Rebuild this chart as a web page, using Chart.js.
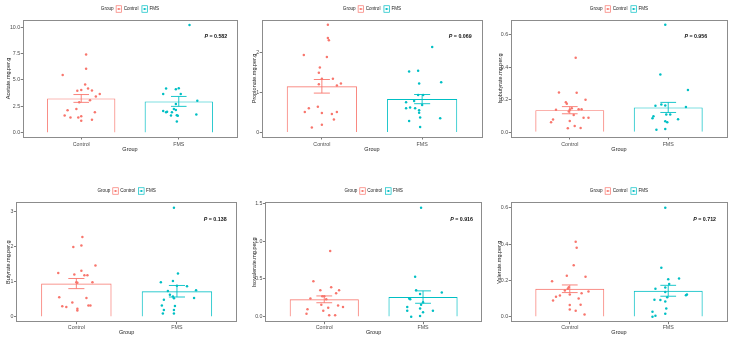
<!DOCTYPE html>
<html>
<head>
<meta charset="utf-8">
<script src="https://cdn.jsdelivr.net/npm/chart.js@4.4.1/dist/chart.umd.min.js"></script>
<style>
  html, body { margin: 0; padding: 0; background: #fff; }
  #wrap { position: relative; width: 733px; height: 342px; overflow: hidden; }
  .panel { position: absolute; }
  .panel canvas { position: absolute; left: 0; top: 0; }
</style>
</head>
<body>
<div id="wrap"></div>
<script>
const groups = ['Control', 'FMS'];
const colors = ['#F8766D', '#00BFC4'];

const yTitles = ['Acetate.mg.per.g', 'Propionate.mg.per.g', 'Isobutyrate.mg.per.g',
                 'Butyrate.mg.per.g', 'Isovalerate.mg.per.g', 'Valerate.mg.per.g'];
const pValues = ['0.582', '0.069', '0.956', '0.138', '0.916', '0.712'];

// bar height = group mean, whiskers = mean +/- se
const barMeans = [[3.25, 2.97], [1.15, 0.83], [0.135, 0.152], [0.95, 0.73], [0.23, 0.26], [0.154, 0.143]];
const barSE    = [[0.37, 0.47], [0.17, 0.115], [0.022, 0.031], [0.145, 0.165], [0.045, 0.082], [0.021, 0.03]];

const yTicks    = [[0, 2.5, 5, 7.5, 10], [0, 1, 2], [0, 0.2, 0.4, 0.6], [0, 1, 2, 3], [0, 0.5, 1, 1.5], [0, 0.2, 0.4, 0.6]];
const yDecimals = [1, 0, 1, 0, 1, 1];
const yRange    = [[-0.45, 10.73], [-0.13, 2.82], [-0.033, 0.693], [-0.156, 3.276], [-0.072, 1.512], [-0.03, 0.63]];

// individual samples: [jitter offset, value]
const acetateControl = [[-0.19,5.47],[0.05,7.41],[0.05,6.06],[0.04,4.56],[0,4.06],[-0.04,3.97],[0.07,4.19],[0.11,4.0],[0.19,3.66],[0.15,3.44],[0.09,3.09],[-0.02,2.88],[-0.14,2.13],[-0.05,2.25],[0.14,1.94],[-0.17,1.63],[-0.11,1.44],[-0.03,1.44],[0,1.56],[0,1.13],[0.11,1.22]];
const acetateFMS     = [[0.11,10.22],[-0.13,4.19],[-0.03,4.13],[0,4.22],[-0.16,3.66],[0.02,3.66],[0.19,3.03],[-0.03,2.72],[-0.05,2.25],[-0.16,2.06],[-0.13,1.94],[-0.12,2.0],[-0.07,1.94],[-0.03,2.16],[-0.08,1.63],[-0.02,1.66],[-0.01,1.6],[0.18,1.72],[-0.02,1.06]];

const propionateControl = [[0.06,2.69],[0.06,2.36],[0.07,2.30],[-0.18,1.93],[0.05,1.88],[-0.02,1.62],[-0.03,1.49],[0,1.34],[0.11,1.34],[-0.03,1.2],[0.19,1.22],[0.15,1.17],[-0.04,0.64],[-0.13,0.6],[-0.17,0.51],[0,0.48],[0.15,0.51],[0.1,0.46],[0.12,0.32],[0,0.19],[-0.1,0.12]];
const propionateFMS     = [[0.1,2.13],[-0.13,1.52],[-0.04,1.54],[-0.03,1.22],[0.19,1.25],[-0.04,0.93],[0.01,0.93],[-0.16,0.75],[-0.08,0.78],[0,0.68],[-0.16,0.6],[-0.12,0.62],[-0.07,0.6],[-0.03,0.55],[-0.03,0.49],[-0.02,0.37],[0.18,0.35],[-0.13,0.28],[-0.02,0.13]];

const isobutyrateControl = [[0.06,0.457],[-0.11,0.244],[0.07,0.242],[-0.04,0.184],[-0.03,0.174],[0.16,0.2],[-0.14,0.137],[0.02,0.147],[0.09,0.141],[0.12,0.141],[-0.01,0.127],[0.04,0.105],[0.14,0.089],[0.19,0.089],[-0.17,0.077],[-0.19,0.061],[0,0.069],[0.05,0.038],[0.11,0.026],[-0.02,0.024],[0,0.137]];
const isobutyrateFMS     = [[-0.03,0.66],[-0.08,0.354],[0.2,0.26],[-0.13,0.162],[-0.03,0.164],[-0.07,0.17],[0.18,0.154],[0.02,0.109],[-0.02,0.109],[-0.15,0.097],[-0.16,0.085],[-0.03,0.067],[-0.01,0.061],[0.1,0.079],[-0.03,0.02],[-0.12,0.014]];

const butyrateControl = [[0.06,2.28],[0.05,2.04],[-0.03,2.0],[0.19,1.47],[-0.18,1.25],[0.05,1.32],[-0.02,1.21],[0.08,1.19],[0.11,1.19],[0,0.99],[0.01,0.97],[0.16,0.99],[-0.17,0.56],[0.1,0.54],[-0.04,0.41],[-0.14,0.3],[-0.1,0.28],[0.12,0.32],[0.14,0.32],[0.01,0.23],[0.01,0.18]];
const butyrateFMS     = [[-0.03,3.12],[0.01,1.24],[-0.16,0.99],[-0.04,1.02],[0,0.89],[0.1,0.87],[-0.09,0.74],[0.19,0.76],[-0.07,0.63],[-0.04,0.58],[-0.03,0.53],[0.17,0.54],[-0.13,0.49],[-0.15,0.32],[-0.02,0.31],[-0.13,0.19],[-0.03,0.19],[-0.14,0.09],[-0.03,0.09]];

const isovalerateControl = [[0.06,0.87],[-0.11,0.47],[0.07,0.39],[-0.04,0.35],[0.15,0.35],[0.12,0.31],[-0.14,0.24],[-0.02,0.27],[0,0.27],[0.02,0.23],[-0.03,0.16],[0.04,0.12],[0.14,0.15],[0.19,0.13],[-0.17,0.1],[-0.01,0.08],[-0.18,0.04],[0.05,0.02],[0.11,0.02]];
const isovalerateFMS     = [[-0.02,1.44],[-0.08,0.53],[-0.07,0.35],[0.19,0.32],[-0.14,0.24],[-0.13,0.23],[-0.03,0.3],[0,0.19],[-0.02,0.16],[-0.16,0.13],[-0.03,0.11],[0.1,0.08],[-0.16,0.08],[0,0.06],[-0.03,0.01],[-0.12,0.0]];

const valerateControl = [[0.06,0.413],[0.07,0.38],[0.04,0.283],[-0.18,0.196],[-0.03,0.226],[0.16,0.22],[-0.01,0.163],[-0.02,0.154],[-0.05,0.145],[0.19,0.139],[0.12,0.13],[0,0.123],[-0.1,0.117],[-0.14,0.11],[0.09,0.1],[-0.17,0.09],[0,0.064],[0.11,0.066],[0,0.04],[0.06,0.033],[0.15,0.013]];
const valerateFMS     = [[-0.03,0.6],[-0.07,0.27],[0.11,0.21],[0,0.207],[0.01,0.18],[-0.03,0.161],[-0.13,0.154],[-0.03,0.136],[0.19,0.123],[0.18,0.119],[-0.01,0.108],[-0.14,0.094],[-0.08,0.092],[-0.03,0.084],[-0.02,0.046],[-0.16,0.028],[-0.03,0.017],[-0.13,0.006],[-0.16,0.0]];

const points = [
  [acetateControl, acetateFMS], [propionateControl, propionateFMS], [isobutyrateControl, isobutyrateFMS],
  [butyrateControl, butyrateFMS], [isovalerateControl, isovalerateFMS], [valerateControl, valerateFMS]
];

// layout (page px)
const FONT = '"Liberation Sans", Arial, sans-serif';
const cols = [{ x: 0, w: 245, right: 237.3 }, { x: 245, w: 245, right: 482.3 }, { x: 490, w: 243, right: 727.3 }];
const rows = [
  { y: 0,   h: 160, top: 19.5,  bottom: 137.5, xh: 15.7, tickPad: 1.5, legendY: 9 },
  { y: 170, h: 172, top: 202.3, bottom: 322.2, xh: 13.7, tickPad: 0,   legendY: 21 }
];
const plotLeft = [22.7, 261.7, 510.7, 16, 265, 510.7];
const yTitleX  = [8, 9, 10, 8.3, 9, 9.3];
const pXpos    = [2.38, 2.38, 2.28, 2.38, 2.39, 2.37];

const panelPlugin = {
  id: 'panel',
  afterDatasetsDraw(chart, args, opts) {
    const i = opts.idx, ctx = chart.ctx, x = chart.scales.x, y = chart.scales.y;
    ctx.save();
    ctx.lineWidth = 0.9;
    groups.forEach((g, k) => {
      const m = barMeans[i][k], se = barSE[i][k];
      const cx = x.getPixelForValue(k + 1);
      const half = x.getPixelForValue(k + 1.08) - cx;
      const yt = y.getPixelForValue(m + se), yb = y.getPixelForValue(m - se);
      ctx.strokeStyle = colors[k];
      ctx.beginPath();
      ctx.moveTo(cx, yt); ctx.lineTo(cx, yb);
      ctx.moveTo(cx - half, yt); ctx.lineTo(cx + half, yt);
      ctx.moveTo(cx - half, yb); ctx.lineTo(cx + half, yb);
      ctx.stroke();
    });
    ctx.restore();
  },
  afterDraw(chart, args, opts) {
    const i = opts.idx, ctx = chart.ctx, a = chart.chartArea;
    const row = rows[Math.floor(i / 3)];
    ctx.save();
    // panel border
    ctx.strokeStyle = '#8c8c8c';
    ctx.lineWidth = 1;
    ctx.strokeRect(Math.round(a.left) + 0.5, Math.round(a.top) + 0.5,
                   Math.round(a.right - a.left) - 1, Math.round(a.bottom - a.top) - 1);

    // p value
    const px = chart.scales.x.getPixelForValue(pXpos[i]);
    const py = a.top + 17.5;
    ctx.fillStyle = '#111';
    ctx.textBaseline = 'middle';
    ctx.font = 'italic bold 5.3px ' + FONT;
    const w1 = ctx.measureText('P').width;
    ctx.font = 'bold 5.3px ' + FONT;
    const rest = ' = ' + pValues[i];
    const w2 = ctx.measureText(rest).width;
    let sx = px - (w1 + w2) / 2;
    ctx.font = 'italic bold 5.3px ' + FONT;
    ctx.fillText('P', sx, py);
    ctx.font = 'bold 5.3px ' + FONT;
    ctx.fillText(rest, sx + w1, py);

    // legend
    const ly = row.legendY;
    ctx.font = '4.6px ' + FONT;
    const key = 6.5, gap = 1.5;
    const wG = ctx.measureText('Group').width;
    const wL = groups.map(g => ctx.measureText(g).width);
    const total = wG + 2 + (key + gap + wL[0]) + 3 + (key + gap + wL[1]);
    let lx = (a.left + a.right) / 2 - total / 2;
    ctx.fillStyle = '#222';
    ctx.fillText('Group', lx, ly);
    lx += wG + 2;
    groups.forEach((g, k) => {
      ctx.strokeStyle = colors[k];
      ctx.lineWidth = 0.7;
      ctx.strokeRect(lx + 0.5, ly - key / 2, key - 1, key);
      ctx.beginPath();
      ctx.moveTo(lx + 1.5, ly); ctx.lineTo(lx + key - 1.5, ly);
      ctx.stroke();
      ctx.fillStyle = colors[k];
      ctx.beginPath(); ctx.arc(lx + key / 2, ly, 0.9, 0, Math.PI * 2); ctx.fill();
      ctx.fillStyle = '#222';
      ctx.fillText(g, lx + key + gap, ly);
      lx += key + gap + wL[k] + 3;
    });
    ctx.restore();
  }
};

const wrap = document.getElementById('wrap');

function makePanel(i) {
  const col = cols[i % 3], row = rows[Math.floor(i / 3)];
  const div = document.createElement('div');
  div.className = 'panel';
  div.style.left = col.x + 'px';
  div.style.top = row.y + 'px';
  div.style.width = col.w + 'px';
  div.style.height = row.h + 'px';
  const cv = document.createElement('canvas');
  cv.width = col.w; cv.height = row.h;
  div.appendChild(cv);
  wrap.appendChild(div);

  const yw = plotLeft[i] - col.x;
  const titleSize = 5.5, lh = titleSize * 1.2;

  new Chart(cv, {
    type: 'bar',
    data: {
      datasets: [
        {
          type: 'bar',
          data: groups.map((g, k) => ({ x: k + 1, y: barMeans[i][k] })),
          backgroundColor: 'rgba(255,255,255,0)',
          borderColor: colors,
          borderWidth: 0.9,
          barPercentage: 0.7,
          categoryPercentage: 1,
          order: 3
        },
        ...groups.map((g, k) => ({
          type: 'scatter',
          data: points[i][k].map(p => ({ x: k + 1 + p[0], y: p[1] })),
          backgroundColor: colors[k],
          borderColor: colors[k],
          borderWidth: 0,
          pointRadius: 1.25,
          order: 1
        }))
      ]
    },
    options: {
      responsive: false,
      animation: false,
      devicePixelRatio: 1,
      layout: {
        padding: {
          left: 0,
          top: row.top - row.y,
          right: col.x + col.w - col.right,
          bottom: row.y + row.h - row.bottom - row.xh
        }
      },
      plugins: {
        legend: { display: false },
        tooltip: { enabled: false },
        panel: { idx: i }
      },
      scales: {
        x: {
          type: 'linear', min: 0.4, max: 2.6, offset: false,
          afterBuildTicks: s => { s.ticks = [{ value: 1 }, { value: 2 }]; },
          afterFit: s => { s.height = row.xh; },
          grid: { display: true, offset: false, drawOnChartArea: false, tickLength: 2, color: '#444', lineWidth: 0.7 },
          border: { display: false },
          ticks: { callback: v => groups[v - 1], font: { size: 5.3, family: FONT }, color: '#4d4d4d',
                   padding: row.tickPad, maxRotation: 0, autoSkip: false },
          title: { display: true, text: 'Group', font: { size: titleSize, family: FONT }, color: '#222',
                   padding: { top: 0, bottom: 0 } }
        },
        y: {
          type: 'linear', min: yRange[i][0], max: yRange[i][1],
          afterBuildTicks: s => { s.ticks = yTicks[i].map(v => ({ value: v })); },
          afterFit: s => { s.width = yw; },
          grid: { display: true, drawOnChartArea: false, tickLength: 2, color: '#444', lineWidth: 0.7 },
          border: { display: false },
          ticks: { callback: v => v.toFixed(yDecimals[i]), font: { size: 5.3, family: FONT }, color: '#4d4d4d',
                   padding: 0.5, autoSkip: false },
          title: { display: true, text: yTitles[i], font: { size: titleSize, family: FONT }, color: '#222',
                   padding: { top: yTitleX[i] - lh / 2, bottom: 0 } }
        }
      }
    },
    plugins: [panelPlugin]
  });
}

for (let i = 0; i < 6; i++) makePanel(i);
</script>
</body>
</html>
